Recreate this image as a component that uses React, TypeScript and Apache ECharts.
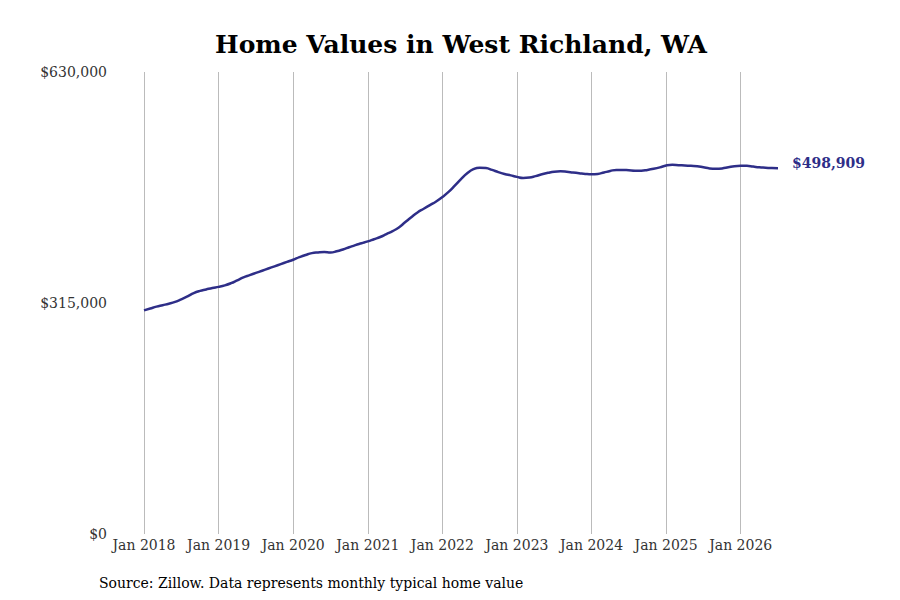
import React, { useEffect, useRef } from "react";
import * as echarts from "echarts";

const years = [2018, 2019, 2020, 2021, 2022, 2023, 2024, 2025, 2026];
const monthsInLastYear = 7;

const values2018 = [305000, 307500, 310000, 312000, 314000, 316500, 320000, 324000, 328500, 331500, 333500, 335500];
const values2019 = [337000, 339000, 342000, 346000, 350000, 353000, 356000, 359000, 362000, 365000, 368000, 371000];
const values2020 = [374000, 377500, 380500, 383000, 384000, 384500, 384000, 385500, 388000, 391000, 394000, 396500];
const values2021 = [399000, 402000, 405000, 409000, 413000, 418000, 425000, 432000, 438500, 443500, 448500, 453500];
const values2022 = [459500, 466500, 475000, 484000, 492000, 497500, 499500, 499000, 496500, 493500, 491000, 489000];
const values2023 = [487000, 485500, 486000, 488000, 490500, 492500, 494000, 494500, 494000, 493000, 492000, 491000];
const values2024 = [490500, 491000, 493000, 495000, 496500, 496500, 496000, 495500, 495500, 496500, 498000, 500000];
const values2025 = [502500, 503500, 503000, 502500, 502000, 501500, 500000, 498500, 498000, 498500, 500000, 501500];
const values2026 = [502000, 502000, 501000, 500000, 499500, 499000, 498909];

const yTicks = [0, 315000, 630000];

const titleText = "Home Values in West Richland, WA";
const sourceText = "Source: Zillow. Data represents monthly typical home value";
const lineColor = "#2e2e88";
const font = "'DejaVu Serif', serif";

export default function App() {
  const ref = useRef<HTMLDivElement>(null);
  useEffect(() => {
    if (!ref.current) return;
    const chart = echarts.init(ref.current, null, { renderer: "svg" });
    const categories: string[] = [];
    years.forEach((y, i) => {
      const n = i === years.length - 1 ? monthsInLastYear : 12;
      for (let m = 1; m <= n; m++) categories.push(`${y}-${String(m).padStart(2, "0")}`);
    });
    const values = [
      ...values2018, ...values2019, ...values2020, ...values2021, ...values2022,
      ...values2023, ...values2024, ...values2025, ...values2026,
    ];
    const isJan = (idx: number) => categories[idx] && categories[idx].endsWith("-01");
    chart.setOption({
      animation: false,
      grid: { left: 144, right: 122, top: 72, bottom: 66 },
      graphic: [
        {
          type: "text",
          x: 461,
          y: 44,
          style: {
            text: titleText,
            font: `bold 25px ${font}`,
            fill: "#000",
            textAlign: "center",
            textVerticalAlign: "middle",
          },
        },
        {
          type: "text",
          x: 99,
          y: 583,
          style: {
            text: sourceText,
            font: `14px ${font}`,
            fill: "#000",
            textAlign: "left",
            textVerticalAlign: "middle",
          },
        },
      ],
      xAxis: {
        type: "category",
        data: categories,
        boundaryGap: false,
        axisLine: { show: false },
        axisTick: { show: false },
        axisLabel: {
          interval: (idx: number) => isJan(idx),
          formatter: (v: string) => `Jan ${v.slice(0, 4)}`,
          fontFamily: font,
          fontSize: 14,
          color: "#333",
          margin: 4,
        },
        splitLine: {
          show: true,
          interval: (idx: number) => isJan(idx),
          lineStyle: { color: "#bbb", width: 1 },
        },
      },
      yAxis: {
        type: "value",
        min: yTicks[0],
        max: yTicks[yTicks.length - 1],
        interval: yTicks[1] - yTicks[0],
        splitLine: { show: false },
        axisLine: { show: false },
        axisTick: { show: false },
        axisLabel: {
          formatter: (v: number) => "$" + v.toLocaleString("en-US"),
          fontFamily: font,
          fontSize: 14,
          color: "#333",
          margin: 37,
        },
      },
      series: [
        {
          type: "line",
          data: values,
          smooth: true,
          showSymbol: false,
          lineStyle: { color: lineColor, width: 2.5 },
          itemStyle: { color: lineColor },
          endLabel: {
            show: true,
            formatter: (p: any) => "$" + Number(p.value).toLocaleString("en-US"),
            fontFamily: font,
            fontSize: 14,
            fontWeight: "bold",
            color: lineColor,
            distance: 14,
            offset: [0, -5],
          },
        },
      ],
    });
    return () => chart.dispose();
  }, []);
  return (
    <div
      ref={ref}
      style={{ width: 900, height: 600, position: "absolute", left: 0, top: 0 }}
    />
  );
}
